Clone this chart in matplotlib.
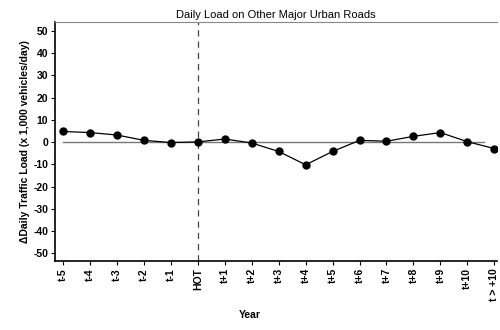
import numpy as np
import matplotlib.pyplot as plt

plt.rcParams['font.family'] = ['Liberation Sans', 'DejaVu Sans']

years = ['t-5', 't-4', 't-3', 't-2', 't-1', 'HOT', 't+1', 't+2', 't+3', 't+4',
         't+5', 't+6', 't+7', 't+8', 't+9', 't+10', 't > +10']
load = [4.8, 4.3, 3.2, 0.8, -0.2, 0.1, 1.4, -0.4, -4.2, -10.2,
        -4.2, 0.8, 0.4, 2.6, 4.3, 0.2, -2.9]
yticks = [50, 40, 30, 20, 10, 0, -10, -20, -30, -40, -50]

fig = plt.figure(figsize=(5, 3.3), dpi=100)
ax = fig.add_axes([0.11, 0.209, 0.884, 0.724])
x = np.arange(len(years))

ax.plot([0, 15.6], [0, 0], color='#777777', lw=1)
ax.axvline(years.index('HOT'), color='#444444', lw=0.9, ls=(0, (5, 4)))
ax.plot(x, load, color='black', lw=0.9, marker='o', ms=5)

ax.set_xlim(-0.3, 16.1)
ax.set_ylim(-53.5, 54)
ax.set_xticks(x)
ax.set_xticklabels(years, rotation=90, fontsize=7.5, fontweight='bold')
ax.set_yticks(yticks)
ax.set_yticklabels([str(v) for v in yticks], fontsize=7.5, fontweight='bold')
ax.tick_params(length=3, width=0.8, pad=2)

ax.spines['right'].set_visible(False)
ax.spines['top'].set_color('#888888')
ax.spines['top'].set_linewidth(0.8)
ax.spines['left'].set_linewidth(1.2)
ax.spines['bottom'].set_linewidth(1.2)

ax.set_title('Daily Load on Other Major Urban Roads', fontsize=8, pad=3)
ax.set_ylabel('\u0394Daily Traffic Load (x 1,000 vehicles/day)', fontsize=7.5,
              fontweight='bold', labelpad=2)
fig.text(0.5, 0.035, 'Year', fontsize=7.5, fontweight='bold', ha='center')

fig.savefig('out.png', dpi=100)
